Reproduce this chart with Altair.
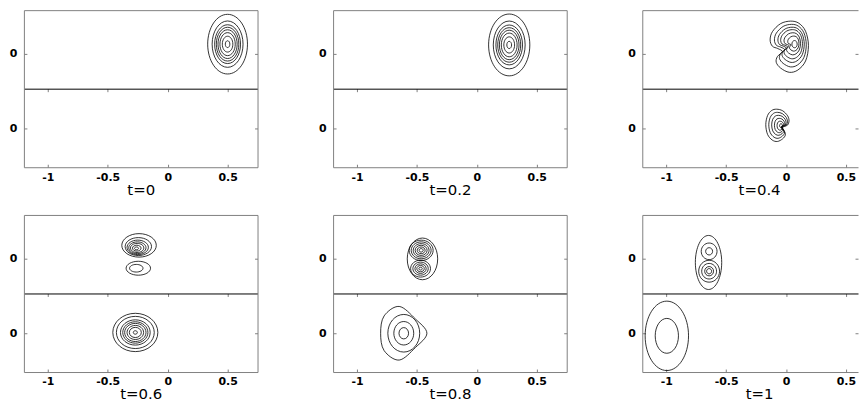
import altair as alt
import pandas as pd

# ---- panel titles ----
times = ["t=0", "t=0.2", "t=0.4", "t=0.6", "t=0.8", "t=1"]

# ---- axis tick values ----
x_ticks = [-1, -0.5, 0, 0.5]
y_ticks = [-1, 0.875]          # centre of lower strip, centre of upper strip (both labelled "0")
x_domain = [-1.2, 0.75]
y_domain = [-1.975, 1.975]

# ---- contour rings: panel, centre x, centre y, half-width (x units), ring form ----
panel = [
    "t=0", "t=0", "t=0", "t=0", "t=0", "t=0", "t=0", "t=0",
    "t=0.2", "t=0.2", "t=0.2", "t=0.2", "t=0.2", "t=0.2", "t=0.2", "t=0.2",
    "t=0.4", "t=0.4", "t=0.4", "t=0.4", "t=0.4", "t=0.4", "t=0.4",
    "t=0.4", "t=0.4", "t=0.4", "t=0.4", "t=0.4", "t=0.4",
    "t=0.6", "t=0.6", "t=0.6", "t=0.6", "t=0.6", "t=0.6", "t=0.6",
    "t=0.6", "t=0.6",
    "t=0.6", "t=0.6", "t=0.6", "t=0.6", "t=0.6", "t=0.6", "t=0.6", "t=0.6",
    "t=0.8",
    "t=0.8", "t=0.8", "t=0.8", "t=0.8", "t=0.8", "t=0.8",
    "t=0.8", "t=0.8", "t=0.8", "t=0.8", "t=0.8",
    "t=0.8", "t=0.8", "t=0.8", "t=0.8",
    "t=1",
    "t=1", "t=1",
    "t=1", "t=1", "t=1", "t=1",
    "t=1", "t=1",
]
cx = [
    0.50, 0.50, 0.50, 0.50, 0.50, 0.50, 0.50, 0.50,
    0.27, 0.27, 0.27, 0.27, 0.27, 0.27, 0.27, 0.27,
    0.027, 0.036, 0.042, 0.046, 0.052, 0.061, 0.071,
    -0.072, -0.066, -0.060, -0.054, -0.048, -0.042,
    -0.239, -0.245, -0.250, -0.253, -0.255, -0.258, -0.260,
    -0.245, -0.262,
    -0.27, -0.27, -0.27, -0.27, -0.27, -0.27, -0.27, -0.27,
    -0.454,
    -0.465, -0.465, -0.465, -0.465, -0.465, -0.465,
    -0.47, -0.47, -0.47, -0.47, -0.47,
    -0.61, -0.61, -0.61, -0.61,
    -0.647,
    -0.642, -0.642,
    -0.642, -0.642, -0.642, -0.642,
    -0.995, -0.995,
]
cy = [
    1.12, 1.12, 1.12, 1.12, 1.12, 1.12, 1.12, 1.12,
    1.10, 1.10, 1.10, 1.10, 1.10, 1.10, 1.10, 1.10,
    1.058, 1.085, 1.105, 1.12, 1.13, 1.135, 1.12,
    -0.92, -0.92, -0.92, -0.925, -0.93, -0.93,
    1.21, 1.18, 1.16, 1.15, 1.145, 1.14, 1.135,
    0.635, 0.635,
    -0.98, -0.98, -0.98, -0.98, -0.98, -0.98, -0.98, -0.98,
    0.87,
    1.085, 1.085, 1.085, 1.085, 1.085, 1.085,
    0.625, 0.625, 0.625, 0.625, 0.625,
    -1.0, -1.0, -1.0, -1.0,
    0.78,
    1.06, 1.06,
    0.56, 0.56, 0.56, 0.56,
    -1.065, -1.065,
]
half_width = [
    0.166, 0.129, 0.108, 0.094, 0.080, 0.064, 0.044, 0.019,
    0.172, 0.133, 0.111, 0.096, 0.082, 0.066, 0.045, 0.020,
    0.160, 0.133, 0.110, 0.091, 0.069, 0.047, 0.022,
    0.097, 0.078, 0.060, 0.043, 0.027, 0.012,
    0.144, 0.110, 0.089, 0.072, 0.056, 0.036, 0.017,
    0.102, 0.056,
    0.188, 0.158, 0.124, 0.105, 0.089, 0.069, 0.050, 0.017,
    0.127,
    0.100, 0.083, 0.066, 0.050, 0.033, 0.017,
    0.083, 0.064, 0.047, 0.031, 0.014,
    0.193, 0.133, 0.083, 0.040,
    0.110,
    0.066, 0.029,
    0.087, 0.062, 0.037, 0.021,
    0.181, 0.097,
]
form = [
    "tall", "tall", "tall", "tall", "tall", "tall", "tall", "tall",
    "tall", "tall", "tall", "tall", "tall", "tall", "tall", "tall",
    "crescent", "crescent", "crescent", "crescent", "crescent", "crescent", "semi",
    "crescent_r", "crescent_r", "crescent_r", "crescent_r", "crescent_r", "semi",
    "wide", "wide", "wide", "wide", "wide", "wide", "wide",
    "flat", "flat",
    "broad", "broad", "broad", "broad", "broad", "broad", "broad", "broad",
    "semi",
    "broad", "broad", "broad", "broad", "broad", "broad",
    "broad", "broad", "broad", "broad", "broad",
    "tri", "mid", "mid", "mid",
    "long",
    "round", "round",
    "round", "round", "round", "round",
    "vtall", "tall",
]

df = pd.DataFrame({"panel": panel, "x": cx, "y": cy, "w": half_width, "form": form})


# ---- ring outline shapes (unit half-width, y pointing down) ----
def ellipse_path(k):
    c = 0.5523
    return (f"M1,0C1,{c*k:.4f} {c},{k} 0,{k}C{-c},{k} -1,{c*k:.4f} -1,0"
            f"C-1,{-c*k:.4f} {-c},{-k} 0,{-k}C{c},{-k} 1,{-c*k:.4f} 1,0Z")


def smooth_path(pts):
    n = len(pts)
    s = f"M{pts[0][0]},{pts[0][1]}"
    for i in range(n):
        p0, p1, p2, p3 = pts[i - 1], pts[i], pts[(i + 1) % n], pts[(i + 2) % n]
        c1 = (p1[0] + (p2[0] - p0[0]) / 6, p1[1] + (p2[1] - p0[1]) / 6)
        c2 = (p2[0] - (p3[0] - p1[0]) / 6, p2[1] - (p3[1] - p1[1]) / 6)
        s += f"C{c1[0]:.3f},{c1[1]:.3f} {c2[0]:.3f},{c2[1]:.3f} {p2[0]:.3f},{p2[1]:.3f}"
    return s + "Z"


crescent_outline = [(0.07, -1.33), (0.50, -1.22), (0.85, -0.80), (1.0, -0.05), (0.85, 0.75),
                    (0.45, 1.22), (0.0, 1.34), (-0.45, 1.12), (-0.68, 0.82), (-0.62, 0.52),
                    (-0.36, 0.26), (-0.60, 0.10), (-0.88, -0.02), (-1.0, -0.35),
                    (-0.88, -0.78), (-0.45, -1.2)]
tri_outline = [(-0.2, -1.16), (-0.85, -0.75), (-1.0, 0.0), (-0.85, 0.75), (-0.2, 1.16),
               (0.5, 0.62), (1.0, 0.0), (0.5, -0.62)]

form_names = ["long", "vtall", "tall", "semi", "mid", "round", "broad", "wide", "flat",
              "crescent", "crescent_r", "tri"]
form_paths = ([ellipse_path(k) for k in [2.05, 1.6, 1.5, 1.37, 1.18, 1.05, 0.85, 0.68, 0.57]]
              + [smooth_path(crescent_outline),
                 smooth_path([(-px, py * 1.04) for px, py in crescent_outline]),
                 smooth_path(tri_outline)])

W, H = 235, 158
PX_PER_X = W / (x_domain[1] - x_domain[0])
W_LAST = 217          # right-hand column is cut by the page edge, as in the original
GRAY = "#808080"


def make_panel(t, width, closed_right=True):
    x_max = x_domain[0] + width / PX_PER_X
    base = alt.Chart(df).transform_filter(alt.datum.panel == t)
    xs = alt.Scale(domain=[x_domain[0], x_max], nice=False, zero=False)
    ys = alt.Scale(domain=y_domain, nice=False, zero=False)
    # rings + labelled axes (their domain lines give the left and bottom frame)
    rings = base.mark_point(filled=False, stroke="black", strokeWidth=0.8, opacity=1).encode(
        x=alt.X("x:Q", scale=xs, axis=alt.Axis(
            orient="bottom", values=x_ticks, labelExpr="datum.value + ''", ticks=False,
            tickSize=0, domain=True, domainColor=GRAY, domainWidth=1, grid=False,
            labelPadding=4, labelFlush=False, title=t, titlePadding=0, titleX=W / 2)),
        y=alt.Y("y:Q", scale=ys, axis=alt.Axis(
            orient="left", values=y_ticks, labelExpr="'0'", ticks=False, tickSize=0,
            domain=True, domainColor=GRAY, domainWidth=1, grid=False, labelPadding=7,
            minExtent=15, maxExtent=15, labelFlush=False, title=None)),
        shape=alt.Shape("form:N", scale=alt.Scale(domain=form_names, range=form_paths), legend=None),
        size=alt.Size("w:Q", scale=alt.Scale(type="pow", exponent=2, domain=[0, 1],
                                             range=[0, 4 * PX_PER_X ** 2]), legend=None),
    )
    # middle divider (black) with downward ticks, and inward ticks on the left edge
    mid = base.mark_point(opacity=0).encode(
        x=alt.X("x:Q", scale=xs, axis=alt.Axis(
            orient="bottom", offset=-H / 2, values=x_ticks, labels=False, domain=True,
            domainColor="black", domainWidth=1, ticks=True, tickSize=3, tickColor=GRAY,
            grid=False, title=None)),
        y=alt.Y("y:Q", scale=ys, axis=alt.Axis(
            orient="right", offset=-width, values=y_ticks, labels=False, domain=False,
            ticks=True, tickSize=3, tickColor=GRAY, grid=False, title=None)),
    )
    # inward ticks on the bottom edge; right frame edge with inward ticks
    edge = base.mark_point(opacity=0).encode(
        x=alt.X("x:Q", scale=xs, axis=alt.Axis(
            orient="top", offset=-H, values=x_ticks, labels=False, domain=False,
            ticks=True, tickSize=3, tickColor=GRAY, grid=False, title=None)),
        y=alt.Y("y:Q", scale=ys, axis=alt.Axis(
            orient="left", offset=-width, values=y_ticks, labels=False,
            domain=closed_right, domainColor=GRAY, domainWidth=1,
            ticks=True, tickSize=3, tickColor=GRAY, grid=False, title=None)),
    )
    # top frame edge
    top = base.mark_point(opacity=0).encode(
        x=alt.X("x:Q", scale=xs, axis=alt.Axis(
            orient="top", labels=False, domain=True, domainColor=GRAY, domainWidth=1,
            ticks=False, tickSize=0, grid=False, title=None)),
        y=alt.Y("y:Q", scale=ys, axis=None),
    )
    return alt.layer(rings, mid, edge, top).resolve_axis(
        x="independent", y="independent").properties(width=width, height=H)


row1 = alt.hconcat(make_panel(times[0], W), make_panel(times[1], W),
                   make_panel(times[2], W_LAST, closed_right=False), spacing=59)
row2 = alt.hconcat(make_panel(times[3], W), make_panel(times[4], W),
                   make_panel(times[5], W_LAST, closed_right=False), spacing=59)

chart = alt.vconcat(row1, row2, spacing=16).properties(
    padding={"left": 0, "top": 0, "right": 0, "bottom": 0}
).configure_view(
    stroke="transparent"
).configure_axis(
    labelFont="DejaVu Sans", labelFontSize=11, labelFontWeight="bold", labelColor="black",
    titleFont="DejaVu Sans", titleFontSize=15, titleFontWeight="normal", titleColor="black",
)

chart.save("out.html", embed_options={"renderer": "svg", "actions": False})
